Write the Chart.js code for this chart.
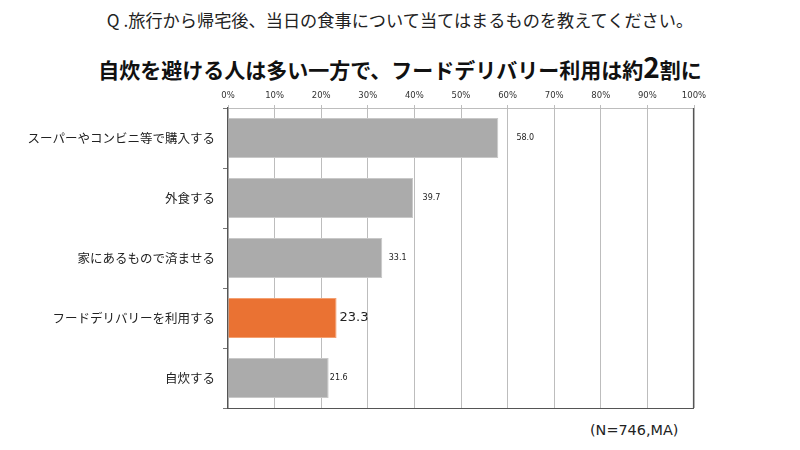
<!DOCTYPE html>
<html><head><meta charset="utf-8">
<script src="https://cdn.jsdelivr.net/npm/chart.js@4"></script>
<style>
html,body{margin:0;padding:0;background:#fff;}
#wrap{position:relative;width:800px;height:450px;overflow:hidden;}
#c{position:absolute;left:0;top:0;}
.t1{position:absolute;left:0;width:800px;top:8px;text-align:center;font-family:"Noto Sans CJK JP";font-size:17.2px;color:#222;line-height:24px;}
.t2{position:absolute;left:0;width:800px;top:51px;text-align:center;font-family:"Noto Sans CJK JP";font-weight:bold;font-size:21px;color:#111;line-height:30px;}
.t2 .big{font-size:28px;}
.note{position:absolute;left:590px;top:422px;font-family:"DejaVu Sans";font-size:14.4px;color:#222;}
</style></head>
<body><div id="wrap">
<div class="t1">Q .旅行から帰宅後、当日の食事について当てはまるものを教えてください。</div>
<div class="t2">自炊を避ける人は多い一方で、フードデリバリー利用は約<span class="big">2</span>割に</div>
<div class="note">(N=746,MA)</div>
<canvas id="c" width="800" height="450"></canvas>
</div>
<script>
const categories = ["スーパーやコンビニ等で購入する","外食する","家にあるもので済ませる","フードデリバリーを利用する","自炊する"];
const values = [58.0, 39.7, 33.1, 23.3, 21.6];
const highlight = [false, false, false, true, false];
const tickLabels = ["0%","10%","20%","30%","40%","50%","60%","70%","80%","90%","100%"];

const GRAY = "#ABABAB", ORANGE = "#EA7233";

const labelPlugin = {
  id: "vals",
  afterDatasetsDraw(chart) {
    const ctx = chart.ctx, meta = chart.getDatasetMeta(0), xs = chart.scales.x;
    ctx.save();
    meta.data.forEach((bar, i) => {
      const v = values[i];
      ctx.textBaseline = "middle";
      if (highlight[i]) {
        ctx.font = "13px 'DejaVu Sans'";
        ctx.fillStyle = "#222";
        ctx.textAlign = "left";
        ctx.fillText(v.toFixed(1), bar.x + 3, bar.y);
      } else {
        ctx.font = "8px 'DejaVu Sans'";
        ctx.fillStyle = "#222";
        ctx.textAlign = "center";
        ctx.fillText(v.toFixed(1), xs.getPixelForValue(v * 1.1), bar.y);
      }
    });
    const a = chart.chartArea;
    ctx.strokeStyle = "#555";
    ctx.lineWidth = 1.2;
    ctx.beginPath();
    ctx.moveTo(a.left, a.bottom + 0.5); ctx.lineTo(a.right, a.bottom + 0.5);
    ctx.moveTo(a.right - 0.5, a.top); ctx.lineTo(a.right - 0.5, a.bottom);
    ctx.stroke();
    ctx.restore();
  }
};

new Chart(document.getElementById("c"), {
  type: "bar",
  data: {
    labels: categories,
    datasets: [{
      data: values,
      backgroundColor: highlight.map(h => h ? ORANGE : GRAY),
      borderColor: highlight.map(h => h ? "#F4A071" : "#C8C8C8"),
      borderWidth: 1,
      barPercentage: 1,
      categoryPercentage: 0.667
    }]
  },
  options: {
    indexAxis: "y",
    responsive: false,
    animation: false,
    layout: { padding: { left: 0, right: 106, top: 0, bottom: 42 } },
    plugins: { legend: { display: false }, tooltip: { enabled: false } },
    scales: {
      x: {
        position: "top",
        min: 0, max: 100,
        afterFit(s) { s.height = 108; },
        afterBuildTicks(s) { s.ticks = tickLabels.map((t, i) => ({ value: i * 10 })); },
        ticks: {
          padding: 4,
          color: "#333",
          font: { family: "DejaVu Sans", size: 8.5 },
          callback: (v, i) => tickLabels[i]
        },
        grid: { color: "#BDBDBD", lineWidth: 1, tickLength: 3, drawTicks: true },
        border: { display: true, color: "#BDBDBD", width: 1 }
      },
      y: {
        afterFit(s) { s.width = 228; },
        ticks: {
          color: "#222",
          padding: 8,
          font: { family: "Noto Sans CJK JP", size: 12.5 }
        },
        grid: { offset: true, drawOnChartArea: false, tickLength: 5, color: "#777" },
        border: { display: true, color: "#555", width: 1.2 }
      }
    }
  },
  plugins: [labelPlugin]
});
</script>
</body></html>
